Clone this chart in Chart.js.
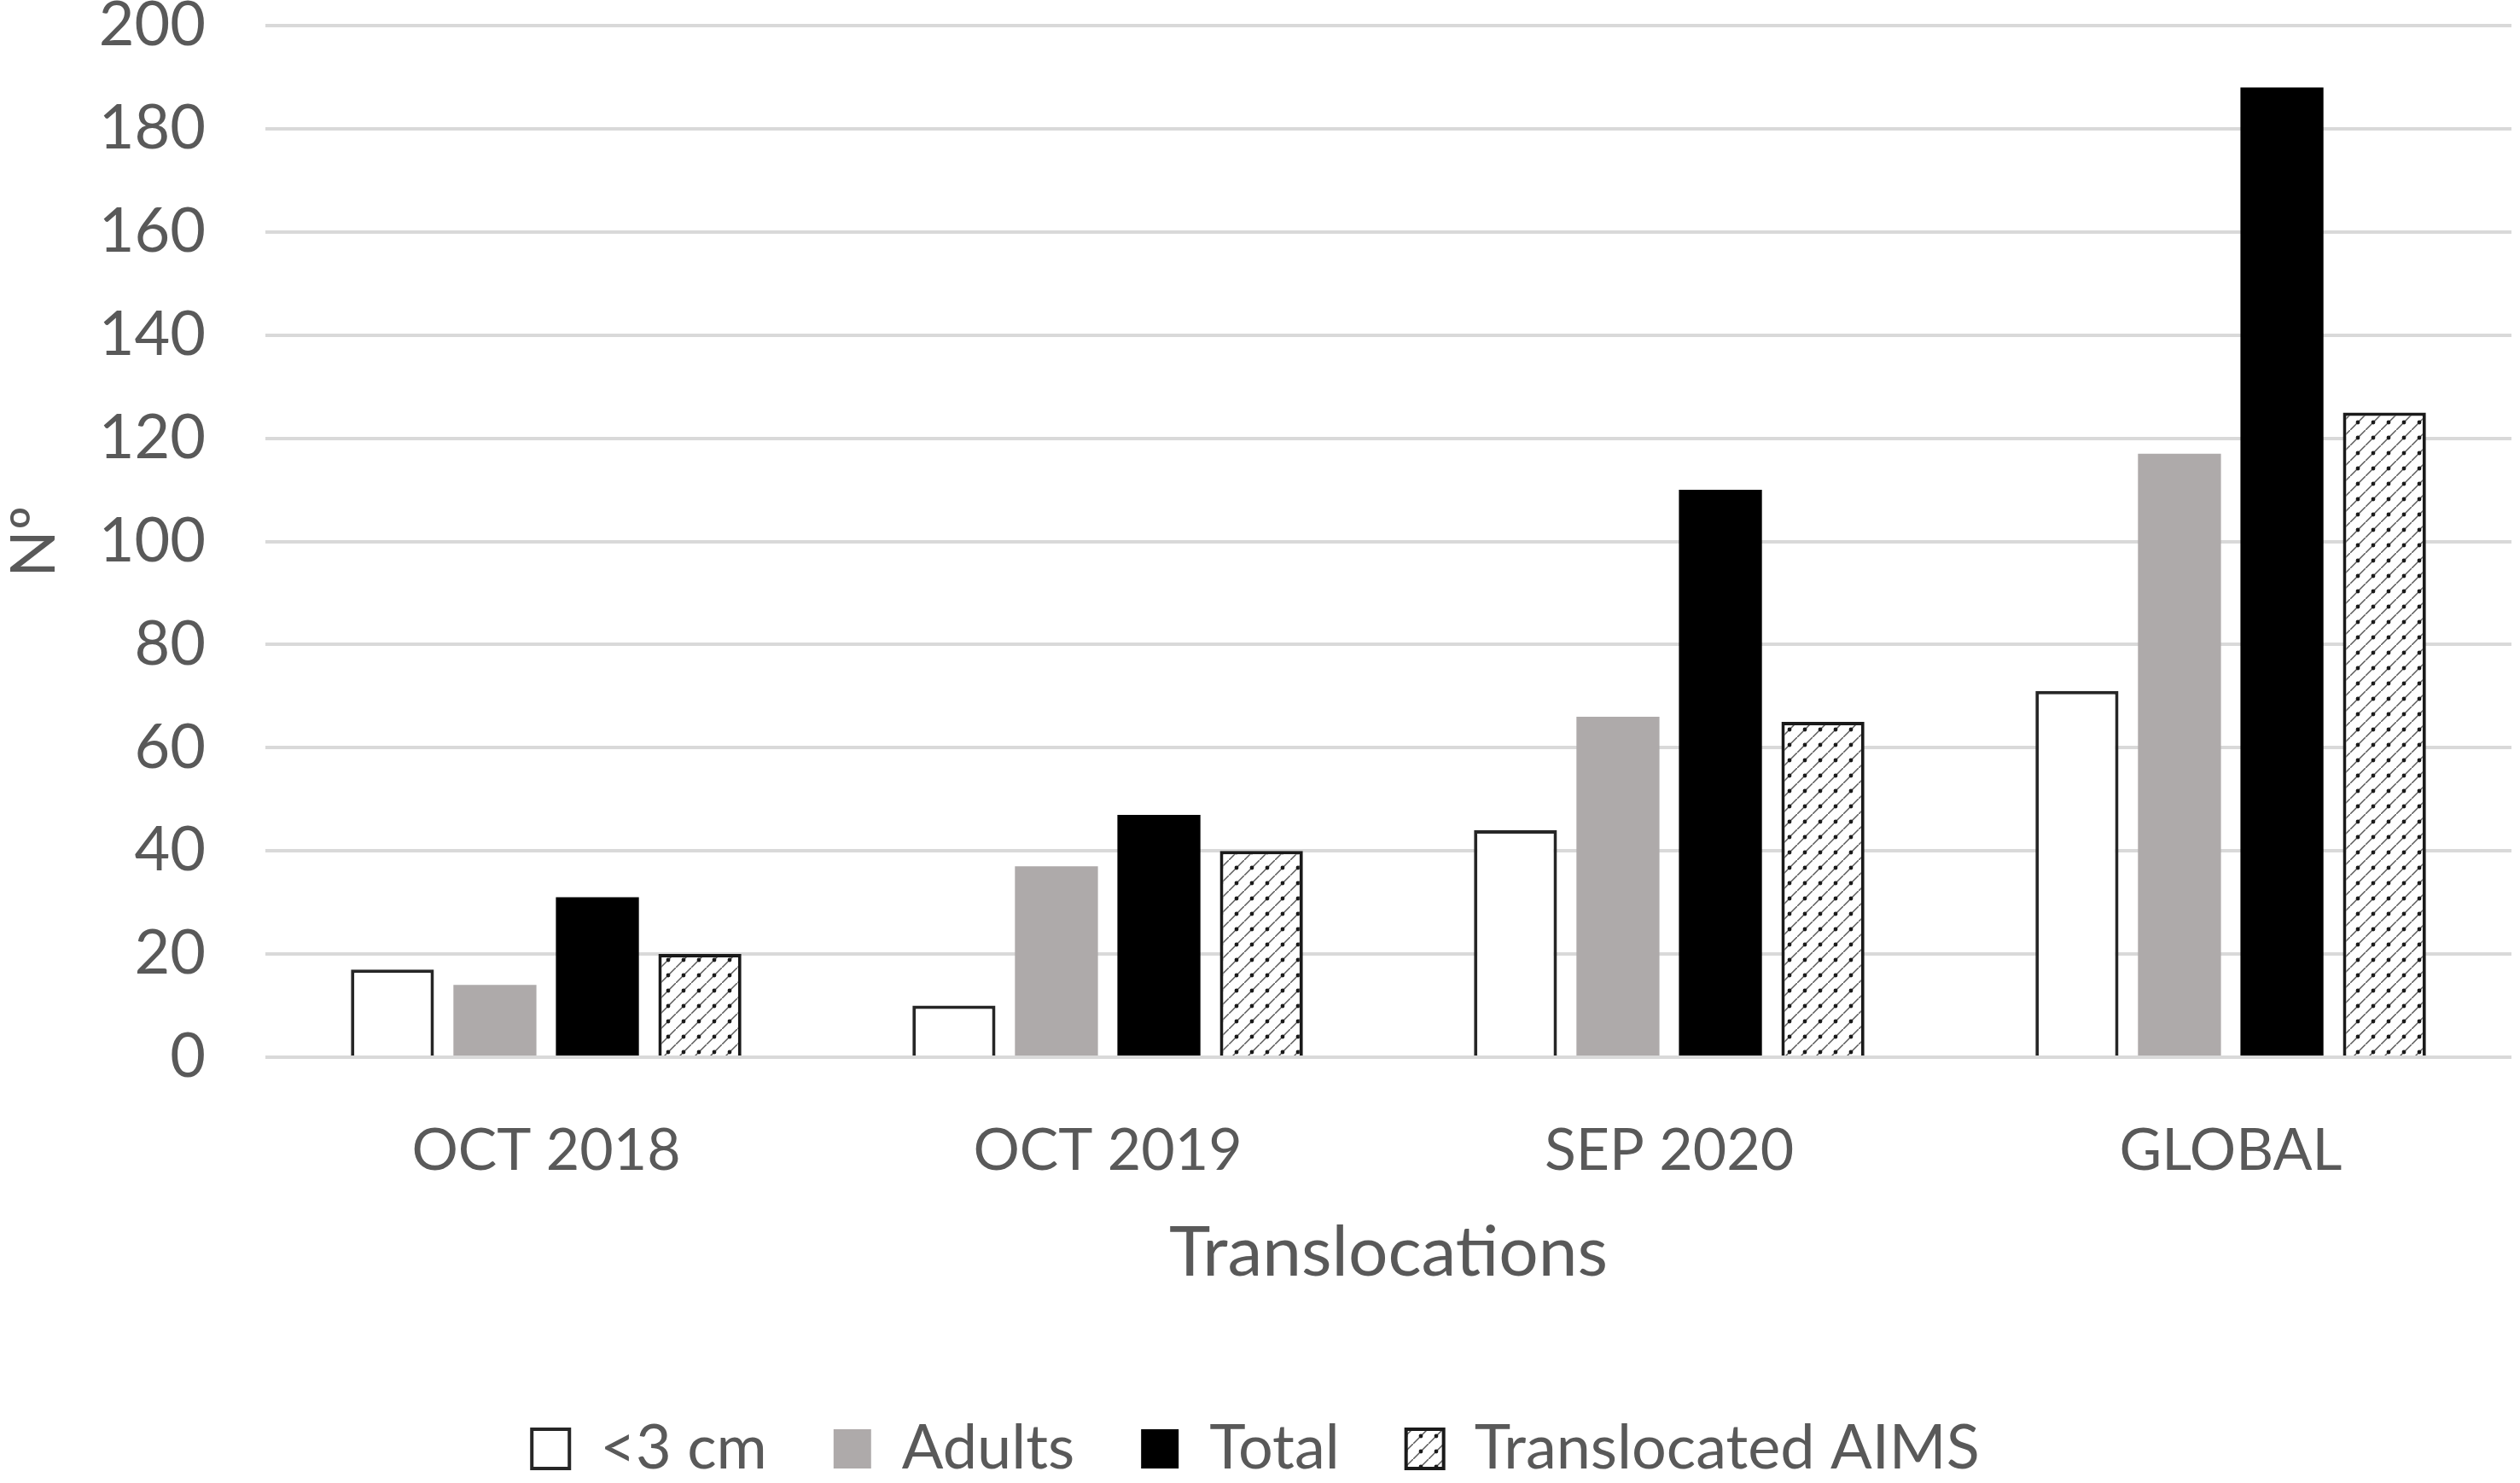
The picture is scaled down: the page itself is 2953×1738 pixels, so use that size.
<!DOCTYPE html>
<html>
<head>
<meta charset="utf-8">
<script src="https://cdn.jsdelivr.net/npm/chart.js@4.4.1/dist/chart.umd.min.js"></script>
<style>
html, body { margin: 0; padding: 0; background: #fff; overflow: hidden; }
#chart { display: block; }
</style>
</head>
<body>
<canvas id="chart" width="2953" height="1738"></canvas>
<script>
// ── Data ───────────────────────────────────────────────
const categories   = ["OCT 2018", "OCT 2019", "SEP 2020", "GLOBAL"];
const seriesNames  = ["<3 cm", "Adults", "Total", "Translocated AIMS"];
const smallValues  = [17, 10, 44, 71];
const adultValues  = [14, 37, 66, 117];
const totalValues  = [31, 47, 110, 188];
const aimsValues   = [20, 40, 65, 125];
const yTickValues  = [0, 20, 40, 60, 80, 100, 120, 140, 160, 180, 200];

const textColor  = "#595959";
const gridColor  = "#d9d9d9";
const fontFamily = "Lato, 'Open Sans', sans-serif";

// ── Hatch pattern (thin diagonals with dots on them) ───
function makeHatch() {
    const size = 18;
    const c = document.createElement("canvas");
    c.width = size;
    c.height = size;
    const g = c.getContext("2d");
    g.fillStyle = "#ffffff";
    g.fillRect(0, 0, size, size);
    g.strokeStyle = "#5a5a5a";
    g.lineWidth = 1.5;
    g.beginPath();
    g.moveTo(-2, size + 2);
    g.lineTo(size + 2, -2);
    g.stroke();
    g.fillStyle = "#1a1a1a";
    g.beginPath();
    g.arc(9, 9, 2.4, 0, Math.PI * 2);
    g.fill();
    return g.createPattern(c, "repeat");
}

const hatch = makeHatch();

// legend sits low in the reference: keep its item spacing but trim its box
const legendHeight = 154;
const legendFit = {
    id: "legendFit",
    beforeLayout(chart) {
        const lg = chart.legend;
        if (lg && !lg.fitPatched) {
            const baseFit = lg.fit;
            lg.fit = function () {
                baseFit.call(this);
                this.height = legendHeight;
            };
            lg.fitPatched = true;
        }
    }
};

new Chart(document.getElementById("chart"), {
    type: "bar",
    data: {
        labels: categories,
        datasets: [
            {
                label: seriesNames[0],
                data: smallValues,
                backgroundColor: "#ffffff",
                borderColor: "#262626",
                borderWidth: 4
            },
            {
                label: seriesNames[1],
                data: adultValues,
                backgroundColor: "#aeaaaa",
                borderWidth: 0
            },
            {
                label: seriesNames[2],
                data: totalValues,
                backgroundColor: "#000000",
                borderWidth: 0
            },
            {
                label: seriesNames[3],
                data: aimsValues,
                backgroundColor: hatch,
                borderColor: "#1a1a1a",
                borderWidth: 4
            }
        ]
    },
    plugins: [legendFit],
    options: {
        responsive: false,
        animation: false,
        devicePixelRatio: 1,
        categoryPercentage: 0.73,
        barPercentage: 0.81,
        layout: { padding: { top: 30, right: 10, left: 0, bottom: 0 } },
        plugins: {
            tooltip: { enabled: false },
            legend: {
                position: "bottom",
                labels: {
                    color: textColor,
                    font: { family: fontFamily, size: 72 },
                    boxWidth: 44,
                    boxHeight: 46,
                    padding: 78
                }
            }
        },
        scales: {
            x: {
                grid: { display: false },
                border: { display: false },
                ticks: {
                    color: textColor,
                    font: { family: fontFamily, size: 68, lineHeight: 1.2 },
                    padding: 61
                },
                title: {
                    display: true,
                    text: "Translocations",
                    color: textColor,
                    font: { family: fontFamily, size: 82, lineHeight: 1 },
                    padding: { top: 0, bottom: 74 }
                },
                afterFit: scale => { scale.height = 345; }
            },
            y: {
                min: 0,
                max: 200,
                afterBuildTicks: scale => {
                    scale.ticks = yTickValues.map(v => ({ value: v }));
                },
                grid: {
                    color: gridColor,
                    lineWidth: 4,
                    drawTicks: true,
                    tickLength: 70,
                    tickColor: "rgba(0,0,0,0)"
                },
                border: { display: false },
                ticks: {
                    color: textColor,
                    font: { family: fontFamily, size: 72, lineHeight: 0.8 },
                    padding: 0
                },
                title: {
                    display: true,
                    text: "Nº",
                    color: textColor,
                    font: { family: fontFamily, size: 72, lineHeight: 1 },
                    padding: { top: 5, bottom: 0 }
                },
                afterFit: scale => { scale.width = 311; }
            }
        }
    }
});
</script>
</body>
</html>
